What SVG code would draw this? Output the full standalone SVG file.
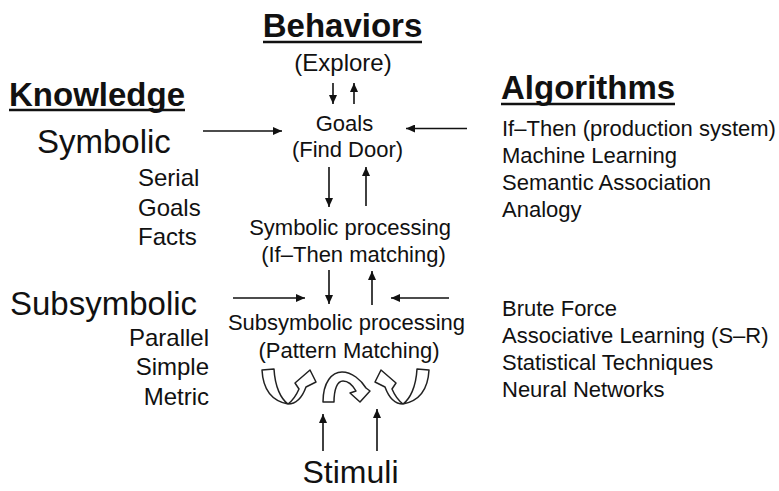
<svg xmlns="http://www.w3.org/2000/svg" width="779" height="491" viewBox="0 0 779 491">
<style>
text{font-family:"Liberation Sans",Arial,sans-serif;fill:#111}
.h{font-size:33px;font-weight:bold}
.big{font-size:33px}
.m{font-size:22px}
.s{font-size:24px}
.c{text-anchor:middle}
.r{text-anchor:end}
.ul{stroke:#111;stroke-width:2.5}
.a{stroke:#111;stroke-width:1.6;fill:none;marker-end:url(#ah)}
.blk{fill:#fff;stroke:#222;stroke-width:1.5;stroke-linejoin:round}
</style>
<defs>
<marker id="ah" markerUnits="userSpaceOnUse" markerWidth="10" markerHeight="8" refX="9" refY="4" orient="auto">
<path d="M0,0 L9,4 L0,8 z" fill="#111"/>
</marker>
<path id="uarrow" d="M262,370 L274,369 C275,387 281,399 288,404 C292,401 296,396 299,389 L295,383 L310,370 L316,382 L306,387 C302,398 296,404 288,404 C272,401 263,389 262,370 Z"/>
</defs>
<rect width="779" height="491" fill="#fff"/>

<g id="behaviors">
<text class="h c" x="342.5" y="37">Behaviors</text>
<line class="ul" x1="263" y1="42" x2="422" y2="42"/>
<text class="s c" x="343" y="71">(Explore)</text>
</g>

<g id="knowledge">
<text class="h" x="9" y="106">Knowledge</text>
<line class="ul" x1="9" y1="110" x2="185" y2="110"/>
</g>

<g id="algorithms">
<text class="h" x="501" y="99">Algorithms</text>
<line class="ul" x1="501" y1="104" x2="675" y2="104"/>
</g>

<g id="symbolic">
<text class="big" x="37" y="153">Symbolic</text>
<text class="s" x="138" y="186">Serial</text>
<text class="s" x="138" y="216">Goals</text>
<text class="s" x="138" y="245">Facts</text>
</g>

<g id="subsymbolic">
<text class="big" x="10" y="315">Subsymbolic</text>
<text class="s r" x="209" y="346">Parallel</text>
<text class="s r" x="209" y="375">Simple</text>
<text class="s r" x="209" y="405">Metric</text>
</g>

<g id="goals">
<text class="m c" x="344.5" y="131">Goals</text>
<text class="m c" x="347.5" y="157">(Find Door)</text>
</g>

<g id="symbolic-processing">
<text class="m c" x="350" y="235">Symbolic processing</text>
<text class="m c" x="353.5" y="262">(If–Then matching)</text>
</g>

<g id="subsymbolic-processing">
<text class="m c" x="346.5" y="330">Subsymbolic processing</text>
<text class="m c" x="349" y="358">(Pattern Matching)</text>
</g>

<g id="algorithms-symbolic">
<text class="m" x="502" y="136">If–Then (production system)</text>
<text class="m" x="502" y="163">Machine Learning</text>
<text class="m" x="502" y="190">Semantic Association</text>
<text class="m" x="502" y="217">Analogy</text>
</g>

<g id="algorithms-subsymbolic">
<text class="m" x="502" y="316">Brute Force</text>
<text class="m" x="502" y="343">Associative Learning (S–R)</text>
<text class="m" x="502" y="370">Statistical Techniques</text>
<text class="m" x="502" y="397">Neural Networks</text>
</g>

<g id="stimuli">
<text class="c" x="350.5" y="483" style="font-size:32px">Stimuli</text>
</g>

<g id="cycle-arrows">
<use href="#uarrow" class="blk"/>
<path class="blk" d="M323,402 C323,382 332,372 342,372 C352,372 361,380 366,388 L370,391 L360,402 L350,393 L356,391 C352,384 348,381 343,381 C337,381 334,390 334,402 Z"/>
<use href="#uarrow" class="blk" transform="translate(691,0) scale(-1,1)"/>
</g>

<g id="connectors">
<line class="a" x1="333" y1="83" x2="333" y2="104"/>
<line class="a" x1="354" y1="104" x2="354" y2="83"/>
<line class="a" x1="203" y1="131" x2="282" y2="131"/>
<line class="a" x1="467" y1="128.5" x2="406" y2="128.5"/>
<line class="a" x1="329" y1="167" x2="329" y2="207"/>
<line class="a" x1="366" y1="206" x2="366" y2="167"/>
<line class="a" x1="329" y1="270" x2="329" y2="304"/>
<line class="a" x1="372" y1="305" x2="372" y2="271"/>
<line class="a" x1="233" y1="298" x2="305" y2="298"/>
<line class="a" x1="449" y1="298" x2="391" y2="298"/>
<line class="a" x1="323" y1="451" x2="323" y2="414"/>
<line class="a" x1="377" y1="451" x2="377" y2="409"/>
</g>
</svg>
